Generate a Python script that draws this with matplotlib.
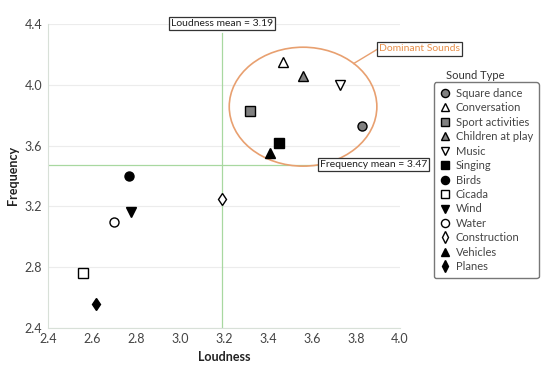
import matplotlib
matplotlib.use("Agg")
import matplotlib.pyplot as plt
from matplotlib.patches import Ellipse

plt.rcParams['font.family'] = ['Lato', 'DejaVu Sans']

sounds = ['Square dance', 'Conversation', 'Sport activities', 'Children at play',
          'Music', 'Singing', 'Birds', 'Cicada', 'Wind', 'Water',
          'Construction', 'Vehicles', 'Planes']
loudness = [3.83, 3.47, 3.32, 3.56, 3.73, 3.45, 2.77, 2.56, 2.78, 2.70, 3.19, 3.41, 2.62]
frequency = [3.73, 4.15, 3.83, 4.06, 4.00, 3.62, 3.40, 2.76, 3.16, 3.10, 3.25, 3.55, 2.56]
markers = ['o', '^', 's', '^', 'v', 's', 'o', 's', 'v', 'o', 'd', '^', 'd']
faces = ['#808080', 'white', '#808080', '#808080', 'white', 'black', 'black',
         'white', 'black', 'white', 'white', 'black', 'black']

loud_mean = 3.19
freq_mean = 3.47

fig = plt.figure(figsize=(5.5, 3.7), dpi=100)
ax = fig.add_axes([0.087, 0.114, 0.64, 0.821])

tick_col = '#444444'
for s in ['top', 'right']:
    ax.spines[s].set_visible(False)
for s in ['left', 'bottom']:
    ax.spines[s].set_color('#d8e0d8')

ax.set_xlim(2.4, 4.0)
ax.set_ylim(2.4, 4.4)
ax.set_xticks([2.4, 2.6, 2.8, 3.0, 3.2, 3.4, 3.6, 3.8, 4.0])
ax.set_yticks([2.4, 2.8, 3.2, 3.6, 4.0, 4.4])
ax.tick_params(length=0, labelsize=9, colors=tick_col, pad=4)
ax.yaxis.grid(True, color='#ececec', linewidth=0.8)
ax.set_axisbelow(True)

ax.axvline(loud_mean, ymax=0.97, color='#a8d8a0', linewidth=0.9, zorder=1)
ax.axhline(freq_mean, color='#a8d8a0', linewidth=0.9, zorder=1)

for x, y, m, fc, lab in zip(loudness, frequency, markers, faces, sounds):
    ax.plot(x, y, linestyle='none', marker=m, markersize=6.5, markerfacecolor=fc,
            markeredgecolor='black', markeredgewidth=1.0, label=lab, zorder=3)

ell = Ellipse((3.56, 3.856), 0.671, 0.783, fill=False, edgecolor='#e8a070',
              linewidth=1.2, zorder=2)
ax.add_patch(ell)
ax.plot([3.79, 3.90], [4.14, 4.236], color='#e8a070', linewidth=1.0, zorder=2,
        clip_on=False)

box = dict(boxstyle='square,pad=0.2', facecolor='white', edgecolor='#333333', linewidth=0.9)
ax.text(3.905, 4.236, 'Dominant Sounds', fontsize=7.5, color='#e8904a',
        ha='left', va='center', bbox=box, clip_on=False, zorder=4)
ax.text(loud_mean, 4.405, 'Loudness mean = 3.19', fontsize=7.5, color='#222222',
        ha='center', va='center', bbox=box, zorder=4)
ax.text(3.88, 3.478, 'Frequency mean = 3.47', fontsize=7.5, color='#222222',
        ha='center', va='center', bbox=box, zorder=4, clip_on=False)

ax.set_xlabel('Loudness', fontsize=9, fontweight='bold', color='#222222', labelpad=4)
ax.set_ylabel('Frequency', fontsize=9, fontweight='bold', color='#222222', labelpad=4)

leg = ax.legend(loc='upper left', bbox_to_anchor=(1.096, 0.808),
                fontsize=8, frameon=True, fancybox=True,
                edgecolor='#555555', handletextpad=0.5, handlelength=1.0,
                labelspacing=0.31, borderpad=0.5, borderaxespad=0,
                markerscale=0.9)
leg.get_frame().set_linewidth(1.0)
for t in leg.get_texts():
    t.set_color('#444444')
fig.text(0.81, 0.795, 'Sound Type', fontsize=8, color='#333333', ha='left', va='center')

fig.savefig('out.png', dpi=100)
